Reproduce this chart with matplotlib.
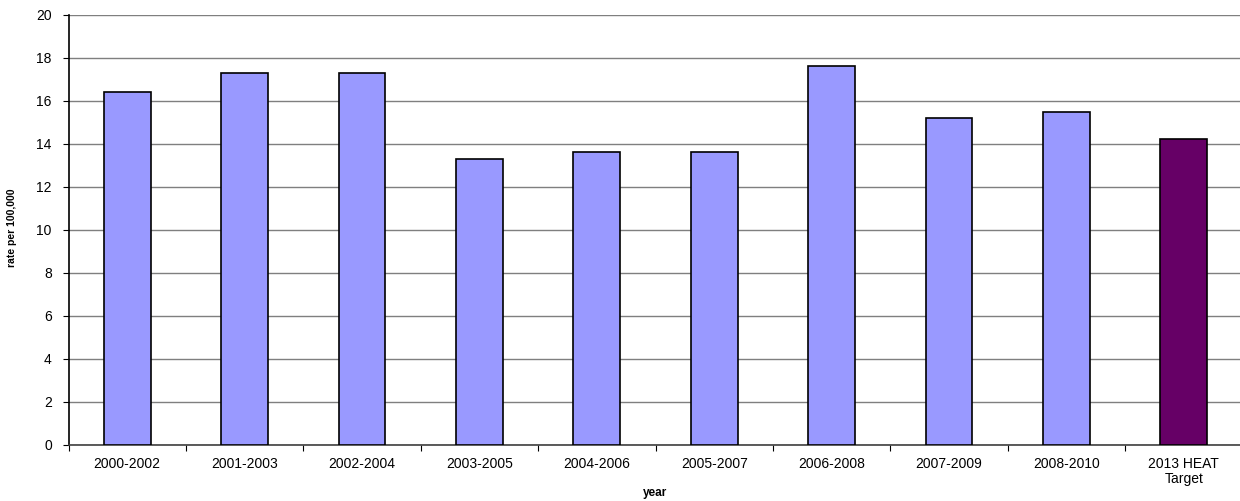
import matplotlib
matplotlib.use("Agg")
import matplotlib.pyplot as plt
import numpy as np

categories = ["2000-2002", "2001-2003", "2002-2004", "2003-2005", "2004-2006",
              "2005-2007", "2006-2008", "2007-2009", "2008-2010", "2013 HEAT\nTarget"]
values = [16.4, 17.3, 17.3, 13.3, 13.6, 13.6, 17.6, 15.2, 15.5, 14.2]
colors = ["#9999FF"] * 9 + ["#660066"]
yticks = [0, 2, 4, 6, 8, 10, 12, 14, 16, 18, 20]

plt.rcParams['font.family'] = ['Liberation Sans', 'DejaVu Sans']

fig = plt.figure(figsize=(12.4, 5.01), dpi=100)
ax = fig.add_axes([68.5/1240, 56/501, 1174/1240, 430.3/501])

x = np.arange(len(categories))
ax.bar(x, values, width=0.4, color=colors, edgecolor="black", linewidth=1.2, zorder=3)

ax.set_xlim(-0.5, len(categories) - 0.5)
ax.set_ylim(0, 20)
ax.set_yticks(yticks)
ax.set_yticklabels([str(v) for v in yticks], fontsize=10)
ax.yaxis.grid(True, color="#7f7f7f", linewidth=1.0, zorder=0)
ax.set_axisbelow(True)

ax.set_xticks(np.arange(len(categories) + 1) - 0.5)
ax.set_xticklabels([])
ax.set_xticks(x, minor=True)
ax.set_xticklabels(categories, minor=True, fontsize=10, linespacing=1.05)
ax.tick_params(axis="x", which="minor", length=0, pad=9)
ax.tick_params(axis="x", which="major", length=4, direction="out", color="black")
ax.tick_params(axis="y", length=4, direction="out", pad=8, color="black")

for s in ["top", "right"]:
    ax.spines[s].set_visible(False)
ax.spines["left"].set_color("black")
ax.spines["left"].set_linewidth(1.2)
ax.spines["bottom"].set_color("#404040")
ax.spines["bottom"].set_linewidth(1.2)

fig.text(12/1240, 1 - 228/501, "rate per 100,000", rotation=90, fontsize=7.5,
         fontweight="bold", ha="center", va="center")
fig.text(655/1240, 1 - 493/501, "year", fontsize=8.5, fontweight="bold",
         ha="center", va="center")

fig.savefig("out.png", dpi=100)
